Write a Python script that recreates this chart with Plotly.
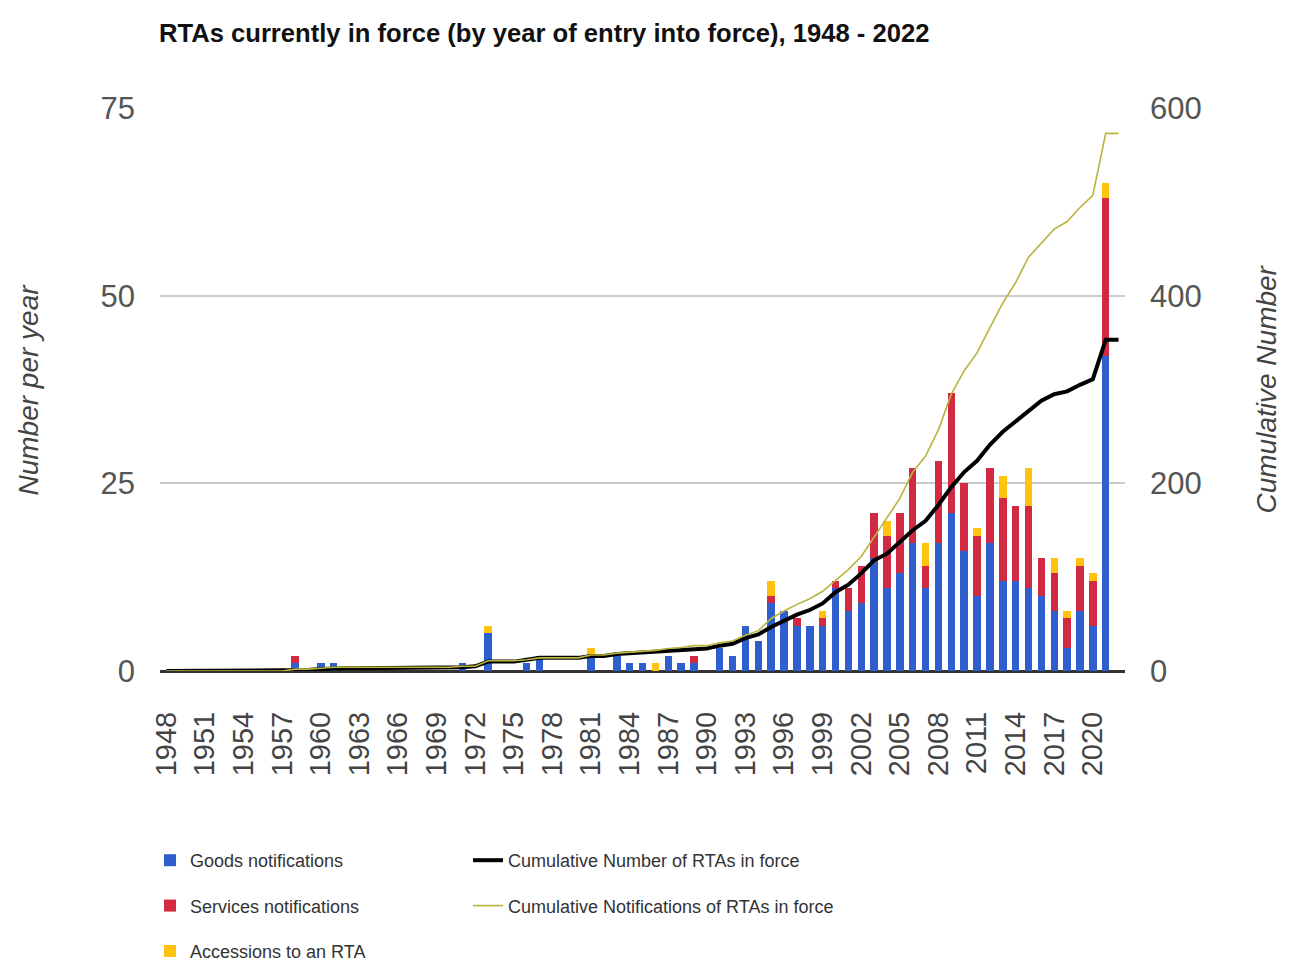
import plotly.graph_objects as go

# ---------------- data ----------------
years = [str(y) for y in range(1948, 2023)]
tick_labels = [str(y) for y in range(1948, 2023, 3)]

goods = [
    0, 0, 0, 0, 0, 0, 0, 0, 0, 0,        # 1948-1957
    1, 0, 1, 1, 0, 0, 0, 0, 0, 0,        # 1958-1967
    0, 0, 0, 1, 0, 5, 0, 0, 1, 2,        # 1968-1977
    0, 0, 0, 2, 0, 2, 1, 1, 0, 2,        # 1978-1987
    1, 1, 0, 3, 2, 6, 4, 9, 8, 6,        # 1988-1997
    6, 6, 11, 8, 9, 15, 11, 13, 17, 11,  # 1998-2007
    17, 21, 16, 10, 17, 12, 12, 11, 10, 8,  # 2008-2017
    3, 8, 6, 42, 0,                      # 2018-2022
]
services = [
    0, 0, 0, 0, 0, 0, 0, 0, 0, 0,
    1, 0, 0, 0, 0, 0, 0, 0, 0, 0,
    0, 0, 0, 0, 0, 0, 0, 0, 0, 0,
    0, 0, 0, 0, 0, 0, 0, 0, 0, 0,
    0, 1, 0, 0, 0, 0, 0, 1, 0, 1,
    0, 1, 1, 3, 5, 6, 7, 8, 10, 3,
    11, 16, 9, 8, 10, 11, 10, 11, 5, 5,
    4, 6, 6, 21, 0,
]
accessions = [
    0, 0, 0, 0, 0, 0, 0, 0, 0, 0,
    0, 0, 0, 0, 0, 0, 0, 0, 0, 0,
    0, 0, 0, 0, 0, 1, 0, 0, 0, 0,
    0, 0, 0, 1, 0, 0, 0, 0, 1, 0,
    0, 0, 0, 0, 0, 0, 0, 2, 0, 0,
    0, 1, 0, 0, 0, 0, 2, 0, 0, 3,
    0, 0, 0, 1, 0, 3, 0, 5, 0, 2,
    1, 1, 1, 2, 0,
]
cum_rtas = [
    0, 0, 0, 0, 0, 0, 0, 0, 0, 0,
    1, 1, 2, 3, 3, 3, 3, 3, 3, 3,
    3, 3, 3, 4, 5, 10, 10, 10, 12, 14,
    14, 14, 14, 16, 16, 18, 19, 20, 20, 22,
    23, 24, 24, 27, 29, 35, 39, 47, 54, 60,
    65, 72, 84, 92, 104, 118, 125, 138, 150, 160,
    177, 196, 212, 224, 241, 255, 266, 277, 288, 295,
    298, 305, 311, 353, 353,
]
cum_notifications = [
    0, 0, 0, 0, 0, 0, 0, 0, 0, 0,
    2, 2, 3, 4, 4, 4, 4, 4, 4, 4,
    4, 4, 4, 5, 5, 11, 11, 11, 12, 14,
    14, 14, 14, 17, 17, 19, 20, 21, 22, 24,
    25, 27, 27, 30, 32, 38, 43, 56, 64, 71,
    77, 85, 97, 108, 122, 143, 163, 184, 212, 229,
    257, 295, 320, 339, 366, 392, 414, 441, 456, 471,
    479, 494, 507, 573, 573,
]
left_ticks = [0, 25, 50, 75]
right_ticks = [0, 200, 400, 600]

# ---------------- style ----------------
FONT = "Liberation Sans, Arial, sans-serif"
BLUE = "#2F5FCC"
RED = "#D32A43"
YELLOW = "#FFC20E"
BLACK = "#000000"
OLIVE = "#B9B43C"

W, H = 1290, 963
OFF = 8  # page offset of the figure inside the browser window
# target plot box in window pixels: x 160..1125, y 108..671
L, T = 160 - OFF, 108 - OFF
R, B = W - (1125 - OFF), H - (671 - OFF)
PW = W - L - R

fig = go.Figure()

fig.add_trace(go.Bar(x=years, y=goods, name="Goods notifications",
                     marker=dict(color=BLUE, line=dict(width=0)),
                     legend="legend", legendgroup="g1", legendrank=1))
fig.add_trace(go.Bar(x=years, y=services, name="Services notifications",
                     marker=dict(color=RED, line=dict(width=0)),
                     legend="legend", legendgroup="g2", legendrank=2))
fig.add_trace(go.Bar(x=years, y=accessions, name="Accessions to an RTA",
                     marker=dict(color=YELLOW, line=dict(width=0)),
                     legend="legend", legendgroup="g3", legendrank=3))
fig.add_trace(go.Scatter(x=years, y=cum_rtas, name="Cumulative Number of RTAs in force",
                         mode="lines", yaxis="y2",
                         line=dict(color=BLACK, width=4),
                         legend="legend2", legendgroup="l1", legendrank=4))
fig.add_trace(go.Scatter(x=years, y=cum_notifications,
                         name="Cumulative Notifications of RTAs in force",
                         mode="lines", yaxis="y2",
                         line=dict(color=OLIVE, width=1.6),
                         legend="legend2", legendgroup="l2", legendrank=5))

fig.update_layout(
    width=W, height=H,
    margin=dict(l=L, r=R, t=T, b=B, autoexpand=False),
    paper_bgcolor="white", plot_bgcolor="white",
    barmode="stack", bargap=0.42,
    font=dict(family=FONT, color="#444444"),
    title=dict(text="<b>RTAs currently in force (by year of entry into force), 1948 - 2022</b>",
               x=(159 - OFF) / W, xanchor="left", xref="container",
               y=1 - (33 - OFF) / H, yanchor="middle", yref="container",
               font=dict(family=FONT, size=25.6, color="#111111")),
    xaxis=dict(type="category", categoryorder="array", categoryarray=years,
               range=[-0.5, len(years) - 0.5], automargin=False,
               tickmode="array", tickvals=tick_labels, ticktext=tick_labels,
               tickangle=-90, tickfont=dict(size=29, color="#444444"),
               showgrid=False, showline=False, zeroline=False, ticks="",
               ticklabelstandoff=34),
    yaxis=dict(range=[0, 75], tickmode="array", tickvals=left_ticks, automargin=False,
               tickfont=dict(size=31, color="#555555"),
               showgrid=True, gridcolor="#CCCCCC", gridwidth=2,
               zeroline=True, zerolinecolor="#333333", zerolinewidth=3,
               showline=False, ticks="", ticklabelstandoff=24),
    yaxis2=dict(range=[0, 600], tickmode="array", tickvals=right_ticks, automargin=False,
                overlaying="y", side="right",
                tickfont=dict(size=31, color="#555555"),
                showgrid=False, zeroline=False, showline=False, ticks="",
                ticklabelstandoff=24),
    legend=dict(orientation="v", x=(150 - OFF) / W, xref="container", xanchor="left",
                y=1 - (842 - OFF) / H, yref="container", yanchor="top",
                font=dict(family=FONT, size=18, color="#333333"),
                tracegroupgap=19, bgcolor="rgba(0,0,0,0)", itemwidth=30),
    legend2=dict(orientation="v", x=(468 - OFF) / W, xref="container", xanchor="left",
                 y=1 - (842 - OFF) / H, yref="container", yanchor="top",
                 font=dict(family=FONT, size=18, color="#333333"),
                 tracegroupgap=19, bgcolor="rgba(0,0,0,0)", itemwidth=30),
    annotations=[
        dict(text="<i>Number per year</i>", xref="paper", yref="paper",
             x=(28 - OFF - L) / PW, y=0.5, xanchor="center", yanchor="middle",
             textangle=-90, showarrow=False,
             font=dict(family=FONT, size=28, color="#444444")),
        dict(text="<i>Cumulative Number</i>", xref="paper", yref="paper",
             x=(1266 - OFF - L) / PW, y=0.5, xanchor="center", yanchor="middle",
             textangle=-90, showarrow=False,
             font=dict(family=FONT, size=28, color="#444444")),
    ],
)

fig.write_html("out.html")
